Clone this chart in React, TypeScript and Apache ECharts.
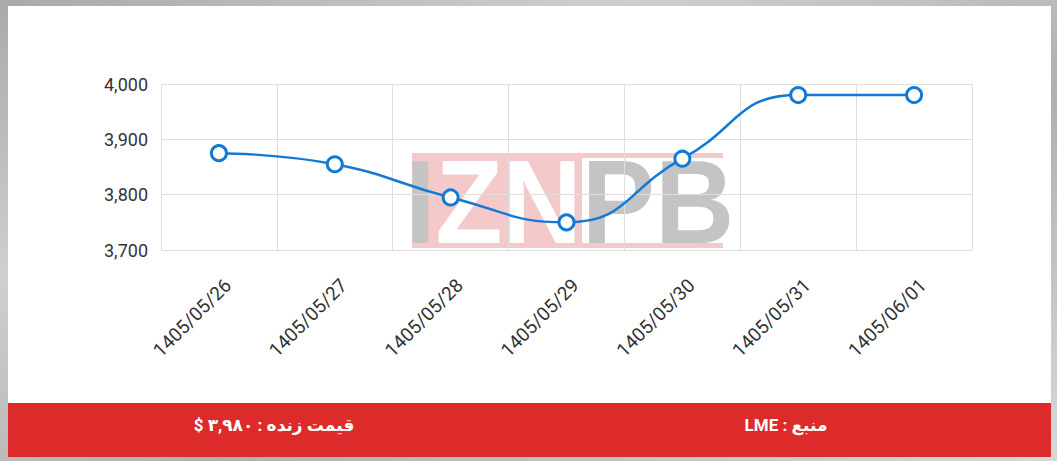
import { useEffect, useRef } from "react"
import * as echarts from "echarts"

const dates = [
  "1405/05/26",
  "1405/05/27",
  "1405/05/28",
  "1405/05/29",
  "1405/05/30",
  "1405/05/31",
  "1405/06/01",
]
const prices = [3875, 3855, 3795, 3750, 3865, 3980, 3980]
const yMin = 3700
const yMax = 4000
const yStep = 100
const priceText = "قیمت زنده : ۳,۹۸۰ $"
const sourceText = "منبع : LME"

const BLUE = "#1479d4"
const GRID_LINE = "#dedede"
const RED = "#dd2a2a"

// RLE ... PDF so the mixed Persian/Latin lines read right to left
const rtl = (s: string) => "\u202B" + s + "\u202C"

export default function App() {
  const ref = useRef<HTMLDivElement>(null)

  useEffect(() => {
    if (!ref.current) return
    const chart = echarts.init(ref.current, undefined, { renderer: "svg" })

    chart.setOption({
      animation: false,
      backgroundColor: new echarts.graphic.LinearGradient(0, 0, 1, 1, [
        { offset: 0, color: "#a9a9a9" },
        { offset: 0.3, color: "#cfcfcf" },
        { offset: 0.6, color: "#b0b0b0" },
        { offset: 1, color: "#d8d8d8" },
      ]),
      grid: [
        { left: 161, right: 85, top: 84, bottom: 211 },
        // same width, shifted right: only carries the rotated date labels
        { left: 170, right: 76, top: 84, bottom: 211 },
      ],
      xAxis: [
        {
          type: "category",
          data: dates,
          gridIndex: 0,
          boundaryGap: true,
          axisLine: { show: false },
          axisTick: { show: false },
          axisLabel: { show: false },
          splitLine: { show: true, lineStyle: { color: GRID_LINE, width: 1 } },
        },
        {
          type: "category",
          data: dates,
          gridIndex: 1,
          boundaryGap: true,
          axisLine: { show: false },
          axisTick: { show: false },
          splitLine: { show: false },
          axisLabel: {
            interval: 0,
            rotate: 45,
            margin: 32,
            fontSize: 19,
            color: "#333",
            fontFamily: "Roboto",
          },
        },
      ],
      yAxis: [
        {
          type: "value",
          gridIndex: 0,
          min: yMin,
          max: yMax,
          interval: yStep,
          axisLine: { show: false },
          axisTick: { show: false },
          axisLabel: {
            margin: 13,
            fontSize: 18,
            color: "#333",
            fontFamily: "Roboto",
            formatter: (v: number) => v.toLocaleString("en-US"),
          },
          splitLine: { lineStyle: { color: GRID_LINE, width: 1 } },
        },
        { type: "value", gridIndex: 1, show: false },
      ],
      graphic: [
        {
          type: "rect",
          z: -30,
          shape: { x: 8, y: 6, width: 1043, height: 451 },
          style: { fill: "#ffffff" },
        },
        // watermark
        {
          type: "rect",
          z: -20,
          shape: { x: 412, y: 153, width: 311, height: 95 },
          style: { fill: "#f4c9c9" },
        },
        {
          type: "rect",
          z: -19,
          shape: { x: 582, y: 158, width: 141, height: 85 },
          style: { fill: "#ffffff" },
        },
        {
          type: "text",
          z: -18,
          x: 405,
          y: 202,
          scaleX: 0.93,
          style: {
            text: "{g|I}{w|ZN}{g|PB}",
            font: "bold 118px 'Liberation Sans'",
            align: "left",
            verticalAlign: "middle",
            rich: {
              g: { fill: "#c4c4c4", font: "bold 118px 'Liberation Sans'" },
              w: { fill: "#ffffff", font: "bold 118px 'Liberation Sans'" },
            },
          },
        },
        // footer bar
        {
          type: "rect",
          z: 10,
          shape: { x: 8, y: 403, width: 1043, height: 54 },
          style: { fill: RED },
        },
        {
          type: "text",
          z: 11,
          x: 274,
          y: 425,
          style: {
            text: rtl(priceText),
            fill: "#fff",
            font: "bold 17px Roboto, 'DejaVu Sans'",
            align: "center",
            verticalAlign: "middle",
          },
        },
        {
          type: "text",
          z: 11,
          x: 786,
          y: 425,
          style: {
            text: rtl(sourceText),
            fill: "#fff",
            font: "bold 17px Roboto, 'DejaVu Sans'",
            align: "center",
            verticalAlign: "middle",
          },
        },
      ],
      series: [
        {
          type: "line",
          xAxisIndex: 0,
          yAxisIndex: 0,
          data: prices,
          smooth: 0.5,
          symbol: "circle",
          symbolSize: 15,
          lineStyle: { color: BLUE, width: 2.5 },
          itemStyle: { color: "#ffffff", borderColor: BLUE, borderWidth: 3 },
          z: 5,
        },
      ],
    })

    return () => chart.dispose()
  }, [])

  return (
    <div
      ref={ref}
      style={{ position: "absolute", left: 0, top: 0, width: 1057, height: 461 }}
    />
  )
}
